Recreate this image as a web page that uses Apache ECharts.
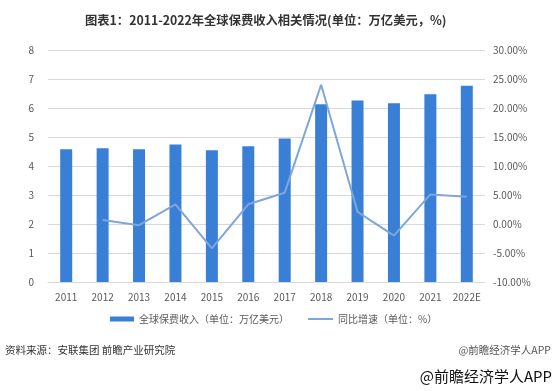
<!DOCTYPE html>
<html><head><meta charset="utf-8">
<script src="https://cdn.jsdelivr.net/npm/echarts@6/dist/echarts.min.js"></script>
<style>html,body{margin:0;padding:0;background:#fff}#c{width:554px;height:391px}</style>
</head><body><div id="c"></div>
<script>
const categories = ['2011','2012','2013','2014','2015','2016','2017','2018','2019','2020','2021','2022E'];
const premiums = [4.58, 4.61, 4.58, 4.74, 4.54, 4.68, 4.95, 6.13, 6.26, 6.16, 6.47, 6.77];
const growth = [null, 0.7, -0.2, 3.4, -4.2, 3.4, 5.4, 24.0, 2.1, -2.0, 5.1, 4.7];
const leftTicks = {min: 0, max: 8, interval: 1};
const rightTicks = {min: -10, max: 30, interval: 5};
const font = '"Microsoft YaHei","Noto Sans CJK SC",sans-serif';
const barName = '全球保费收入（单位：万亿美元）';
const lineName = '同比增速（单位：%）';
const chart = echarts.init(document.getElementById('c'));
chart.setOption({
  animation: false,
  textStyle: {fontFamily: font},
  title: {text: '图表1：2011-2022年全球保费收入相关情况(单位：万亿美元，%)', left: 80, top: 9,
    textStyle: {fontSize: 12.3, fontWeight: 'bold', color: '#333', fontFamily: font}},
  grid: {left: 48, right: 69, top: 50, bottom: 109},
  legend: [
    {bottom: 62, left: 105, textStyle: {color: '#595959', fontSize: 10},
      data: [{name: barName, icon: 'rect'}], itemWidth: 24, itemHeight: 5, itemGap: 3},
    {bottom: 62, left: 303, textStyle: {color: '#595959', fontSize: 10},
      data: [{name: lineName, icon: 'rect'}], itemWidth: 25, itemHeight: 2}
  ],
  xAxis: {type: 'category', data: categories,
    axisLine: {lineStyle: {color: '#d9d9d9'}}, axisTick: {show: false},
    axisLabel: {color: '#595959', fontSize: 10, margin: 10, interval: 0}},
  yAxis: [
    {type: 'value', min: leftTicks.min, max: leftTicks.max, interval: leftTicks.interval,
      axisLabel: {color: '#595959', fontSize: 10, margin: 14},
      splitLine: {lineStyle: {color: '#d9d9d9'}}, axisLine: {show: false}, axisTick: {show: false}},
    {type: 'value', min: rightTicks.min, max: rightTicks.max, interval: rightTicks.interval,
      axisLabel: {color: '#595959', fontSize: 10, margin: 8, formatter: v => v.toFixed(2) + '%'},
      splitLine: {show: false}, axisLine: {show: false}, axisTick: {show: false}}
  ],
  series: [
    {name: barName, type: 'bar', data: premiums, barWidth: 12,
      itemStyle: {color: '#3a7fd6'}},
    {name: lineName, type: 'line', yAxisIndex: 1, data: growth, showSymbol: false,
      symbol: 'none', lineStyle: {color: '#7ea6dc', width: 2}, itemStyle: {color: '#7ea6dc'}}
  ],
  graphic: [
    {type: 'text', left: 5, top: 345, style: {text: '资料来源：安联集团 前瞻产业研究院', fill: '#333', fontSize: 10.5, fontFamily: font}},
    {type: 'text', right: 3, top: 345, style: {text: '@前瞻经济学人APP', fill: '#555', fontSize: 10.5, fontFamily: font}},
    {type: 'text', right: 2, top: 369, style: {text: '@前瞻经济学人APP', fill: '#111', fontSize: 15, fontFamily: font}}
  ]
});
</script></body></html>
